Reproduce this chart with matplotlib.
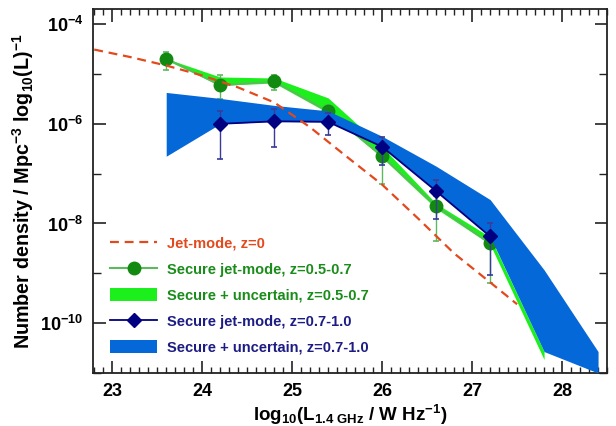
import numpy as np
import matplotlib
matplotlib.use("Agg")
import matplotlib.pyplot as plt
from matplotlib.lines import Line2D
from matplotlib.patches import Patch
from matplotlib.ticker import FixedLocator, NullFormatter, FuncFormatter, MultipleLocator

plt.rcParams['font.family'] = ['Liberation Sans', 'DejaVu Sans']
plt.rcParams['font.weight'] = 'bold'
plt.rcParams['mathtext.fontset'] = 'custom'
plt.rcParams['mathtext.rm'] = 'Liberation Sans:bold'
plt.rcParams['mathtext.bf'] = 'Liberation Sans:bold'
plt.rcParams['mathtext.it'] = 'Liberation Sans:bold'
plt.rcParams['mathtext.default'] = 'regular'
plt.rcParams['axes.unicode_minus'] = False

# ---------------- data (log10 number density) ----------------
x_dash = [22.8, 23.2, 23.6, 24.0, 24.4, 24.8, 25.2, 25.6, 26.0, 26.4, 26.8, 27.2, 27.5]
y_dash = [-4.51, -4.66, -4.83, -5.03, -5.27, -5.57, -6.07, -6.65, -7.22, -7.90, -8.60, -9.18, -9.62]

x_green = [23.6, 24.2, 24.8, 25.4, 26.0, 26.6, 27.2]
y_green = [-4.69, -5.23, -5.15, -5.75, -6.65, -7.65, -8.40]
y_green_hi = [-4.55, -5.03, -5.03, -5.62, -6.40, -7.45, -8.10]
y_green_lo = [-4.91, -5.51, -5.33, -5.90, -7.21, -8.35, -9.19]

x_blue = [24.2, 24.8, 25.4, 26.0, 26.6, 27.2]
y_blue = [-6.00, -5.95, -5.96, -6.46, -7.35, -8.26]
y_blue_hi = [-5.74, -5.70, -5.79, -6.26, -7.12, -8.00]
y_blue_lo = [-6.70, -6.46, -6.22, -6.83, -7.91, -9.04]

x_gband = [23.6, 24.2, 24.8, 25.4, 26.0, 26.6, 27.2, 27.8]
gband_up = [-4.69, -5.06, -5.08, -5.48, -6.46, -7.60, -8.27, -10.57]
gband_lo = [-4.72, -5.23, -5.18, -5.78, -6.68, -7.70, -8.42, -10.73]

x_bband = [23.6, 24.2, 24.8, 25.4, 26.0, 26.6, 27.2, 27.8, 28.4]
bband_up = [-5.37, -5.49, -5.63, -5.74, -6.25, -6.85, -7.52, -8.93, -10.57]
bband_lo = [-6.65, -6.00, -5.95, -5.96, -6.46, -7.35, -8.26, -10.57, -11.00]

labels = ["Jet-mode, z=0",
          "Secure jet-mode, z=0.5-0.7",
          "Secure + uncertain, z=0.5-0.7",
          "Secure jet-mode, z=0.7-1.0",
          "Secure + uncertain, z=0.7-1.0"]

# ---------------- colours ----------------
c_dash = '#E2491C'
c_gmark = '#128A12'
c_gline = '#5DB95D'
c_gband = '#1CF01C'
c_bband = '#0568D8'
c_navy = '#000080'
text_colors = [c_dash, '#1A8C1A', '#1A8C1A', '#1C1C84', '#1C1C84']

p = lambda a: 10.0 ** np.asarray(a)

fig = plt.figure(figsize=(6.16, 4.26), dpi=100)
ax = fig.add_axes([0.1515, 0.1244, 0.834, 0.854])
ax.set_yscale('log')

ax.fill_between(x_gband, p(gband_lo), p(gband_up), color=c_gband, lw=0, zorder=1)
yg = p(y_green)
ax.errorbar(x_green, yg, yerr=[yg - p(y_green_lo), p(y_green_hi) - yg],
            fmt='-o', color=c_gline, mfc=c_gmark, mec=c_gmark, ms=9, lw=1.3,
            ecolor=c_gline, elinewidth=1.0, capsize=2.5, capthick=1.2, zorder=2)
ax.fill_between(x_bband, p(bband_lo), p(bband_up), color=c_bband, lw=0, zorder=3)
yb = p(y_blue)
ax.errorbar(x_blue, yb, yerr=[yb - p(y_blue_lo), p(y_blue_hi) - yb],
            fmt='-D', color=c_navy, mfc=c_navy, mec=c_navy, ms=7, lw=1.3,
            ecolor='#3A3A9A', elinewidth=1.0, capsize=2.5, capthick=1.2, zorder=4)
ax.plot(x_dash, p(y_dash), color=c_dash, lw=1.6, dashes=(4, 2.6), zorder=5)

ax.set_xlim(22.79, 28.5)
ax.set_ylim(1e-11, 10 ** -3.7)

ax.xaxis.set_major_locator(MultipleLocator(1))
ax.xaxis.set_minor_locator(MultipleLocator(0.1))
ax.yaxis.set_major_locator(FixedLocator([1e-4, 1e-6, 1e-8, 1e-10]))
ax.yaxis.set_minor_locator(FixedLocator([1e-5, 1e-7, 1e-9, 1e-11]))
ax.yaxis.set_minor_formatter(NullFormatter())
ax.yaxis.set_major_formatter(FuncFormatter(lambda v, pos: r'$10^{%d}$' % int(round(np.log10(v)))))
ax.xaxis.set_major_formatter(FuncFormatter(lambda v, pos: '%d' % int(round(v))))

ax.tick_params(which='both', direction='in', top=True, right=True, colors='#222222',
               labelcolor='black', labelsize=13)
ax.tick_params(which='major', length=9, width=1.2, pad=7)
ax.tick_params(which='minor', length=4.5, width=1.0)
ax.tick_params(axis='y', which='minor', length=6)
for s in ax.spines.values():
    s.set_linewidth(1.3)
    s.set_color('#222222')

ax.set_xlabel(r'log$_{10}$(L$_{1.4\ GHz}$ / W Hz$^{-1}$)', fontsize=13.5, fontweight='bold', labelpad=2)
ax.set_ylabel(r'Number density / Mpc$^{-3}$ log$_{10}$(L)$^{-1}$', fontsize=14.2, fontweight='bold', labelpad=3)

handles = [Line2D([], [], color=c_dash, lw=1.6, dashes=(4, 2.6)),
           Line2D([], [], color=c_gline, lw=1.5, marker='o', ms=9, mfc=c_gmark, mec=c_gmark),
           Patch(facecolor=c_gband, edgecolor='none'),
           Line2D([], [], color=c_navy, lw=1.3, marker='D', ms=7, mfc=c_navy, mec=c_navy),
           Patch(facecolor=c_bband, edgecolor='none')]
leg = ax.legend(handles, labels, loc='lower left', bbox_to_anchor=(0.022, 0.035),
                frameon=False, fontsize=10.5, handlelength=3.2, handleheight=1.0,
                handletextpad=0.7, labelspacing=0.78, borderaxespad=0)
for t, c in zip(leg.get_texts(), text_colors):
    t.set_color(c)
    t.set_fontweight('bold')

fig.savefig('out.png', dpi=100)
